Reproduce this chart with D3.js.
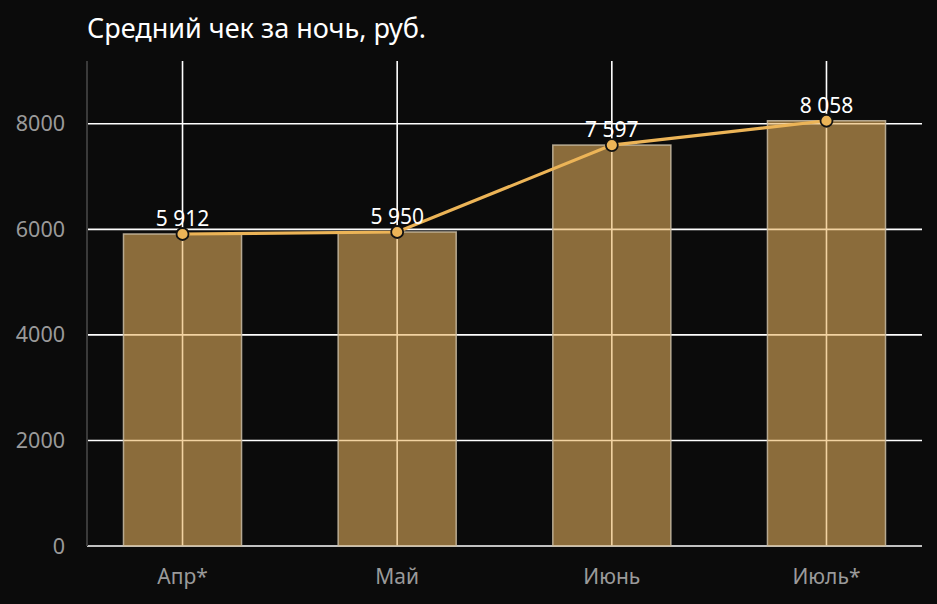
<!DOCTYPE html>
<html>
<head>
<meta charset="utf-8">
<script src="https://cdn.jsdelivr.net/npm/d3@7"></script>
<style>
  html, body { margin: 0; padding: 0; background: #0b0b0b; }
  svg { display: block; font-family: "Noto Sans", "Open Sans", sans-serif; }
</style>
</head>
<body>
<div id="chart"></div>
<script>
// Chart data
const months = ["Апр*", "Май", "Июнь", "Июль*"];
const avgCheck = [5912, 5950, 7597, 8058];
const yTicks = [0, 2000, 4000, 6000, 8000];
const chartTitle = "Средний чек за ночь, руб.";

// Dimensions
const W = 937, H = 604;
const margin = { top: 61, right: 15, bottom: 58, left: 87 };
const width = W - margin.left - margin.right;
const height = H - margin.top - margin.bottom;

const svg = d3.select("#chart")
  .append("svg")
    .attr("width", W)
    .attr("height", H);

svg.append("rect")
  .attr("width", W).attr("height", H)
  .attr("fill", "#0b0b0b");

const g = svg.append("g")
  .attr("transform", `translate(${margin.left},${margin.top})`);

// Scales
const x = d3.scaleBand()
  .domain(months)
  .range([0, width])
  .paddingInner(0.45)
  .paddingOuter(0.17);

const y = d3.scaleLinear()
  .domain([0, 9190])
  .range([height, 0]);

const fmt = d3.formatLocale({ decimal: ",", thousands: "\u00a0", grouping: [3], currency: ["", ""] }).format(",d");

// Horizontal grid lines
g.append("g")
  .selectAll("line")
  .data(yTicks)
  .join("line")
    .attr("x1", 0)
    .attr("x2", width)
    .attr("y1", d => y(d))
    .attr("y2", d => y(d))
    .attr("stroke", "#ffffff")
    .attr("stroke-width", 1.6);

// Vertical grid lines at category centres
g.append("g")
  .selectAll("line")
  .data(months)
  .join("line")
    .attr("x1", d => x(d) + x.bandwidth() / 2)
    .attr("x2", d => x(d) + x.bandwidth() / 2)
    .attr("y1", 0)
    .attr("y2", height)
    .attr("stroke", "#ffffff")
    .attr("stroke-width", 1.6);

// Y axis line
g.append("line")
  .attr("x1", 0).attr("x2", 0)
  .attr("y1", 0).attr("y2", height)
  .attr("stroke", "#3a3a3a")
  .attr("stroke-width", 2);

// Bars (translucent so gridlines show through)
g.append("g")
  .selectAll("rect")
  .data(avgCheck)
  .join("rect")
    .attr("x", (d, i) => x(months[i]))
    .attr("y", d => y(d))
    .attr("width", x.bandwidth())
    .attr("height", d => height - y(d))
    .attr("fill", "rgb(232,180,95)")
    .attr("fill-opacity", 0.58)
    .attr("stroke", "#c9bca4")
    .attr("stroke-opacity", 0.85)
    .attr("stroke-width", 1.5);

// Line
const line = d3.line()
  .x((d, i) => x(months[i]) + x.bandwidth() / 2)
  .y(d => y(d));

g.append("path")
  .datum(avgCheck)
  .attr("d", line)
  .attr("fill", "none")
  .attr("stroke", "#ecb457")
  .attr("stroke-width", 3.2);

// Points
g.append("g")
  .selectAll("circle")
  .data(avgCheck)
  .join("circle")
    .attr("cx", (d, i) => x(months[i]) + x.bandwidth() / 2)
    .attr("cy", d => y(d))
    .attr("r", 6)
    .attr("fill", "#ecb457")
    .attr("stroke", "#111")
    .attr("stroke-width", 1.8);

// Value labels
g.append("g")
  .selectAll("text")
  .data(avgCheck)
  .join("text")
    .attr("x", (d, i) => x(months[i]) + x.bandwidth() / 2)
    .attr("y", d => y(d) - 8)
    .attr("text-anchor", "middle")
    .attr("fill", "#ffffff")
    .style("font-size", "21px")
    .text(d => fmt(d));

// Y tick labels
g.append("g")
  .selectAll("text")
  .data(yTicks)
  .join("text")
    .attr("x", -22)
    .attr("y", d => y(d))
    .attr("dy", "0.35em")
    .attr("text-anchor", "end")
    .attr("fill", "#9a9a9a")
    .style("font-size", "21.5px")
    .text(d => d);

// X labels
g.append("g")
  .selectAll("text")
  .data(months)
  .join("text")
    .attr("x", d => x(d) + x.bandwidth() / 2)
    .attr("y", height + 31)
    .attr("dy", "0.35em")
    .attr("text-anchor", "middle")
    .attr("fill", "#9a9a9a")
    .style("font-size", "21px")
    .text(d => d);

// Title
svg.append("text")
  .attr("x", 87)
  .attr("y", 38)
  .attr("fill", "#ffffff")
  .style("font-size", "27px")
  .text(chartTitle);
</script>
</body>
</html>
